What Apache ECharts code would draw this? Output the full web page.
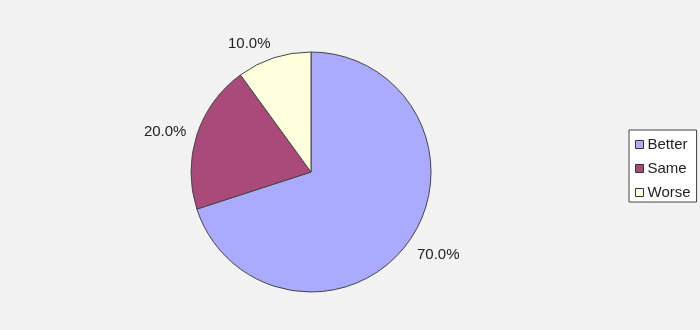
<!DOCTYPE html>
<html><head><meta charset="utf-8">
<script src="https://cdn.jsdelivr.net/npm/echarts@6/dist/echarts.min.js"></script>
<style>html,body{margin:0;padding:0;background:#f2f2f2;}#c{width:700px;height:330px;}</style>
</head><body><div id="c"></div>
<script>
const categories = ['Better', 'Same', 'Worse'];
const values = [70, 20, 10];
const colors = ['#aaaaff', '#aa4a7a', '#ffffdd'];

const total = values.reduce((a, b) => a + b, 0);
const cx = 311, cy = 172, r = 120, labelR = 131;
function midAngle(i) {
  let cum = 0;
  for (let k = 0; k < i; k++) cum += values[k];
  const frac = (cum + values[i] / 2) / total;
  return (90 - 360 * frac) * Math.PI / 180;
}
const FONT = 'Liberation Sans, Arial, Helvetica, sans-serif';
const chart = echarts.init(document.getElementById('c'), null, {renderer: 'canvas'});
chart.setOption({
  backgroundColor: '#f2f2f2',
  animation: false,
  color: colors,
  legend: {
    orient: 'vertical',
    left: 629, top: 130,
    padding: [7, 6, 2, 6],
    itemGap: 9,
    itemWidth: 8, itemHeight: 8,
    icon: 'rect',
    backgroundColor: '#ffffff',
    borderColor: '#444',
    borderWidth: 1,
    itemStyle: {borderColor: '#333', borderWidth: 1},
    textStyle: {fontFamily: FONT, fontSize: 15, color: '#222', padding: [0, 0, 0, -1]},
    data: categories
  },
  series: [{
    type: 'pie',
    center: [cx, cy],
    radius: r,
    startAngle: 90,
    clockwise: true,
    itemStyle: {borderColor: '#444', borderWidth: 1},
    label: {
      show: true,
      position: 'outside',
      fontFamily: FONT,
      fontSize: 15,
      color: '#222',
      formatter: p => (p.value / total * 100).toFixed(1) + '%'
    },
    labelLine: {show: false},
    labelLayout: function (p) {
      const a = midAngle(p.dataIndex);
      const c = Math.cos(a), s = Math.sin(a);
      return {
        x: cx + labelR * c,
        y: cy - labelR * s + 2.5 - 6.5 * s,
        align: c >= 0 ? 'left' : 'right',
        verticalAlign: 'middle'
      };
    },
    emphasis: {disabled: true},
    data: categories.map((c, i) => ({name: c, value: values[i]}))
  }]
});
</script></body></html>
